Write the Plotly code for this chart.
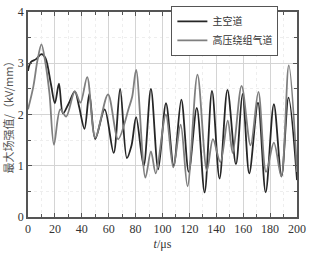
import plotly.graph_objects as go

# data
t_main = [0, 2, 6, 10, 13, 17, 20, 23, 26, 30, 34.8, 38, 42, 45.6, 50, 57, 63.7, 68.5, 73.5, 77, 80.4, 86, 91.4, 96.8,
          102.6, 108.3, 114, 119.5, 125.5, 131.3, 136.8, 142.4, 148.3, 154.6, 159.5, 164.5, 171, 176.7, 182.8, 188.5, 193.7, 200]
v_main = [2.85, 3.02, 3.08, 3.18, 3.1, 2.6, 2.22, 2.6, 2.02, 2.2, 2.45, 2.15, 1.72, 2.4, 1.52, 2.1, 1.25, 2.5, 1.15, 1.4, 1.95, 1.0, 2.5, 0.93,
          2.22, 1.0, 2.29, 0.88, 2.13, 0.48, 2.46, 0.75, 2.48, 1.03, 2.4, 0.85, 2.23, 0.48, 2.2, 0.79, 2.33, 0.72]

t_hv = [0, 4, 7, 10, 13, 16, 19.3, 24, 28.4, 34.8, 39, 44, 50, 59.5, 67, 75, 77.5, 80.4, 87.3, 91.4, 95, 102.5, 108, 113.5, 118.6,
        126, 133, 137.5, 143, 148.5, 152.2, 158.8, 165.5, 171.3, 177, 182.8, 188.3, 193.9, 200]
v_hv = [2.1, 2.55, 3.05, 3.37, 3.0, 2.4, 1.41, 2.1, 1.96, 2.45, 2.23, 2.73, 1.55, 2.39, 1.52, 2.13, 2.35, 2.87, 0.77, 1.28, 0.85, 2.0, 0.97, 1.8, 0.6,
        2.78, 0.9, 1.52, 1.07, 1.88, 1.25, 2.56, 1.4, 2.44, 0.88, 1.45, 0.8, 2.96, 0.88]

name_main = "主空道"
name_hv = "高压绕组气道"
x_ticks = list(range(0, 201, 20))
y_ticks = [0, 1, 2, 3, 4]

fig = go.Figure()
fig.add_trace(go.Scatter(x=t_main, y=v_main, mode="lines", name=name_main,
                         line=dict(color="#262626", width=1.8, shape="spline", smoothing=0.9)))
fig.add_trace(go.Scatter(x=t_hv, y=v_hv, mode="lines", name=name_hv,
                         line=dict(color="#7f7f7f", width=1.8, shape="spline", smoothing=0.9)))

axis_common = dict(showline=True, linecolor="#555555", linewidth=1.5, mirror="ticks",
                   ticks="inside", ticklen=4, tickcolor="#555555",
                   showgrid=True, gridcolor="#d4d4d4", gridwidth=1, zeroline=False,
                   tickfont=dict(family="Liberation Serif", size=12, color="#333333"))

fig.update_xaxes(range=[0, 200], tickvals=x_ticks,
                 minor=dict(dtick=10, ticks="inside", ticklen=3, tickcolor="#555555",
                            showgrid=True, gridcolor="#eeeeee", griddash="dot"),
                 title=dict(text="<i>t</i>/μs", font=dict(family="Liberation Serif", size=12, color="#333333"),
                            standoff=4),
                 **axis_common)
fig.update_yaxes(range=[0, 4], tickvals=y_ticks,
                 minor=dict(dtick=0.5, ticks="inside", ticklen=3, tickcolor="#555555",
                            showgrid=True, gridcolor="#eeeeee", griddash="dot"),
                 title=dict(text="最大场强值/（kV/mm）", font=dict(family="Noto Sans CJK SC", size=11, color="#555555"),
                            standoff=4),
                 **axis_common)

fig.update_layout(
    width=311, height=254,
    margin=dict(l=28, r=11, t=5, b=31),
    paper_bgcolor="white", plot_bgcolor="white",
    showlegend=True,
    legend=dict(x=0.533, y=1.03, xanchor="left", yanchor="top",
                bgcolor="white", bordercolor="#555555", borderwidth=1,
                font=dict(family="Noto Sans CJK SC", size=10, color="#333333"),
                tracegroupgap=0, itemwidth=30),
)

fig.write_html("out.html")
